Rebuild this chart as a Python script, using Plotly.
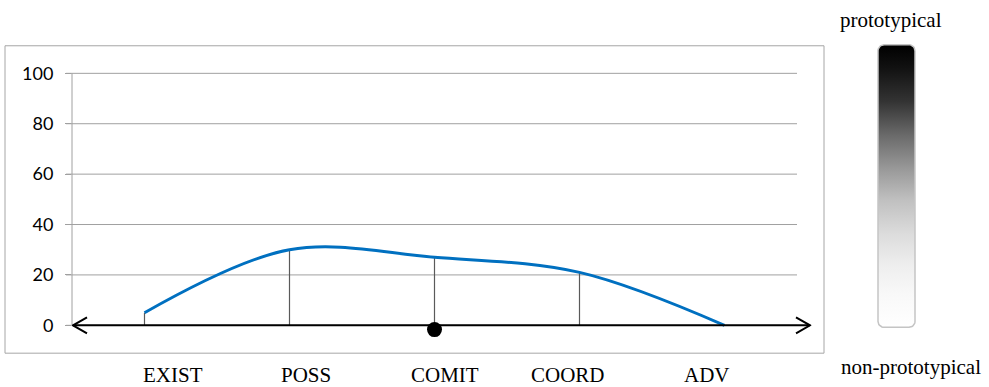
import numpy as np
import plotly.graph_objects as go

# ---------------- data ----------------
categories = ["EXIST", "POSS", "COMIT", "COORD", "ADV"]
values = [5, 30, 27, 21, 0]
highlight_category = "COMIT"
highlight_value = -1.7
y_ticks = [0, 20, 40, 60, 80, 100]
scale_top_label = "prototypical"
scale_bottom_label = "non-prototypical"

# ---------------- geometry helpers ----------------
W, H = 989, 387
def px(x):
    return x / W
def py(y):
    return 1 - y / H

xi = list(range(len(categories)))
x_lo, x_hi = -0.5, 4.6
y_lo, y_hi = -6, 104
px_per_x = (811.5 - 72) / (x_hi - x_lo)
px_per_y = (340.2 - 61.57) / (y_hi - y_lo)

fig = go.Figure()

# vertical drop lines
vx, vy = [], []
for i, v in zip(xi, values):
    vx += [i, i, None]
    vy += [0, v, None]
fig.add_trace(go.Scatter(x=vx, y=vy, mode="lines",
                         line=dict(color="#5a5a5a", width=1.2),
                         hoverinfo="skip", showlegend=False))

# smooth curve
fig.add_trace(go.Scatter(x=xi, y=values, mode="lines",
                         line=dict(color="#0070C0", width=3, shape="spline", smoothing=1.0),
                         showlegend=False))

# highlight dot
hi = categories.index(highlight_category)
fig.add_trace(go.Scatter(x=[hi], y=[highlight_value], mode="markers",
                         marker=dict(color="black", size=15),
                         showlegend=False))

# gradient scale bar (rounded rectangle on its own axes, pixel units)
bw, bh, r = 37, 284, 6
t = np.linspace(0, np.pi / 2, 10)
pts_x, pts_y = [], []
corners = [(bw - r, bh - r, 0), (r, bh - r, np.pi / 2), (r, r, np.pi), (bw - r, r, 1.5 * np.pi)]
for cx, cy, a0 in corners:
    pts_x += list(cx + r * np.cos(a0 + t))
    pts_y += list(cy + r * np.sin(a0 + t))
pts_x.append(pts_x[0]); pts_y.append(pts_y[0])
fig.add_trace(go.Scatter(
    x=pts_x, y=pts_y, xaxis="x2", yaxis="y2", mode="lines", fill="toself",
    fillgradient=dict(type="vertical", colorscale=[
        [0.0, "#ffffff"], [0.12, "#f8f8f8"], [0.22, "#eeeeee"], [0.33, "#dcdcdc"],
        [0.45, "#c0c0c0"], [0.56, "#999999"], [0.68, "#6a6a6a"], [0.8, "#333333"],
        [0.92, "#111111"], [1.0, "#000000"]]),
    line=dict(color="#c4c4c4", width=1.5),
    hoverinfo="skip", showlegend=False))

shapes = []
# outer frame
shapes.append(dict(type="rect", xref="paper", yref="paper",
                   x0=px(5), x1=px(824), y0=py(353), y1=py(44),
                   line=dict(color="#a6a6a6", width=1), layer="below"))
# gridlines
for v in y_ticks:
    shapes.append(dict(type="line", xref="paper", yref="y",
                       x0=px(66), x1=px(797), y0=v, y1=v,
                       line=dict(color="#a0a0a0", width=1), layer="below"))
# y axis line
shapes.append(dict(type="line", xref="paper", yref="y",
                   x0=px(72), x1=px(72), y0=min(y_ticks), y1=max(y_ticks),
                   line=dict(color="#a0a0a0", width=1), layer="below"))
# double-headed arrow along zero
ax0 = x_lo + 1 / px_per_x
ax1 = x_lo + (810 - 72) / px_per_x
dx = 14 / px_per_x
dy = 8 / px_per_y
shapes.append(dict(type="line", xref="x", yref="y", x0=ax0, x1=ax1, y0=0, y1=0,
                   line=dict(color="black", width=2)))
shapes.append(dict(type="path", xref="x", yref="y",
                   path=f"M {ax0+dx},{dy} L {ax0},0 L {ax0+dx},{-dy}",
                   line=dict(color="black", width=2)))
shapes.append(dict(type="path", xref="x", yref="y",
                   path=f"M {ax1-dx},{dy} L {ax1},0 L {ax1-dx},{-dy}",
                   line=dict(color="black", width=2)))

serif = dict(family="Liberation Serif, Times New Roman, serif", size=21, color="black")
label_px = [173, 306, 445, 568, 707]
annotations = []
for lab, lx in zip(categories, label_px):
    annotations.append(dict(text=lab, x=px(lx), y=py(375), xref="paper", yref="paper",
                            showarrow=False, font=serif, xanchor="center", yanchor="middle"))
annotations.append(dict(text=scale_top_label, x=px(891), y=py(18), xref="paper", yref="paper",
                        showarrow=False, font=serif, xanchor="center", yanchor="middle"))
annotations.append(dict(text=scale_bottom_label, x=px(911), y=py(367), xref="paper", yref="paper",
                        showarrow=False, font=serif, xanchor="center", yanchor="middle"))

fig.update_layout(
    width=W, height=H,
    margin=dict(l=0, r=0, t=0, b=0),
    paper_bgcolor="white", plot_bgcolor="rgba(0,0,0,0)",
    showlegend=False,
    xaxis=dict(domain=[px(72), px(811.5)], range=[x_lo, x_hi],
               showgrid=False, zeroline=False, showline=False,
               showticklabels=False, ticks=""),
    yaxis=dict(domain=[py(340.2), py(61.57)], range=[y_lo, y_hi],
               tickvals=y_ticks, showgrid=False, zeroline=False, showline=False,
               ticks="outside", ticklen=6, tickcolor="#a0a0a0",
               ticklabelstandoff=8,
               tickfont=dict(family="Lato, Carlito, Calibri, sans-serif", size=18, color="black")),
    xaxis2=dict(domain=[px(876), px(917)], range=[-2, bw + 2], visible=False, anchor="y2"),
    yaxis2=dict(domain=[py(329), py(41)], range=[-2, bh + 2], visible=False, anchor="x2"),
    shapes=shapes, annotations=annotations,
)

fig.write_html("out.html", config={"displayModeBar": False},
               post_script="document.body.style.margin='0';document.body.style.padding='0';")
